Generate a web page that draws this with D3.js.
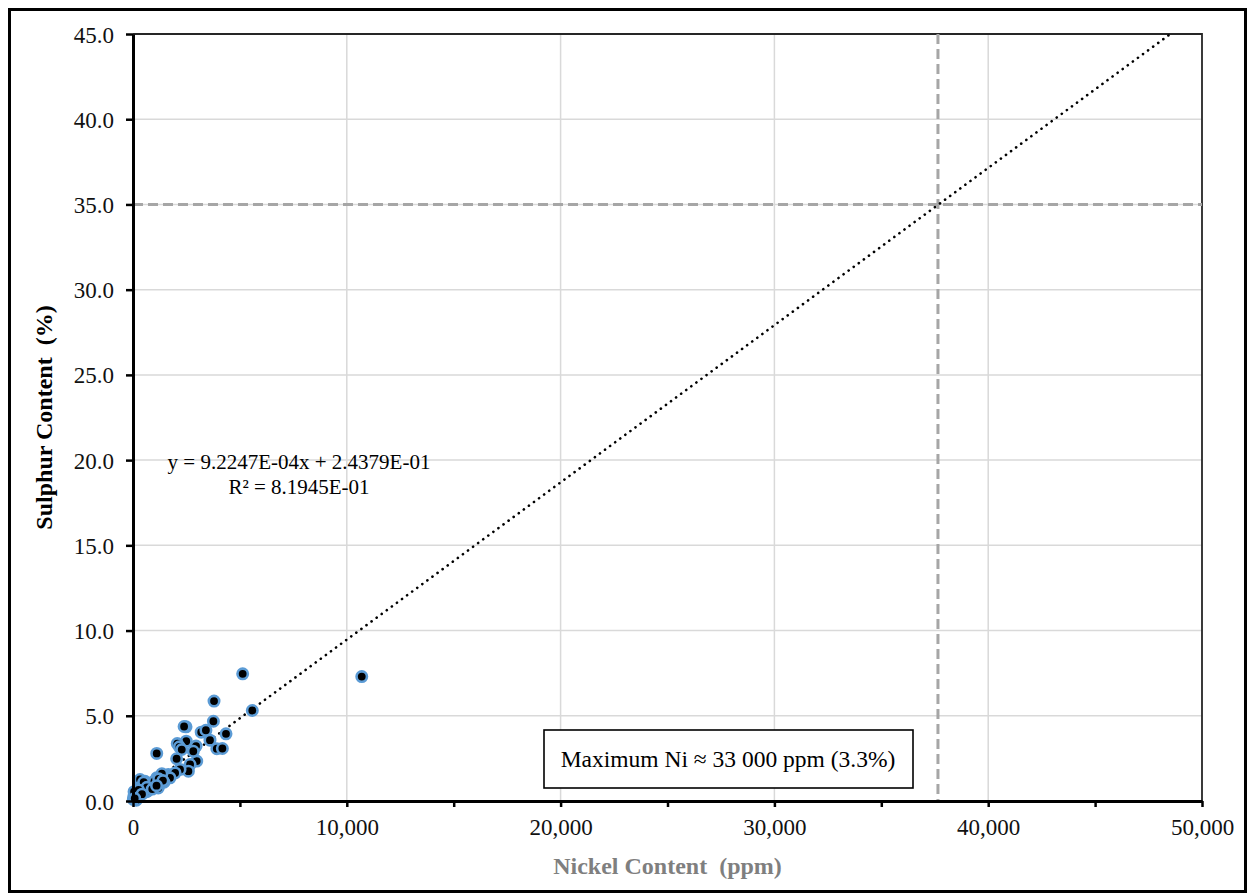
<!DOCTYPE html>
<html>
<head>
<meta charset="utf-8">
<script src="https://cdn.jsdelivr.net/npm/d3@7"></script>
<style>
  body { margin: 0; background: #fff; }
  text { font-family: "Liberation Serif", "Times New Roman", serif; }
</style>
</head>
<body>
<svg id="chart" width="1250" height="895"></svg>
<script>
// nickel (ppm) and sulphur (%) for each sample
let nickel = [10700, 5130, 5580, 3790, 3760, 2480, 2390, 3190, 3410, 4350,
  2490, 3600, 2070, 2950, 3920, 4180, 1110, 2170, 2280, 2040,
  2980, 2670, 2590, 2200, 1650, 1580, 1340, 950, 1260, 560,
  330, 170, 90, 250, 15, 1970, 1110, 720, 1180, 560,
  410, 480, 1730, 2820, 330, 1450, 800, 640, 220, 120,
  60, 380, 520, 900, 1050, 1350, 700, 280, 40, 150,
  100, 200, 300, 450, 600, 750, 850, 1000, 1200, 1400,
  50, 180, 350, 500, 650, 900, 1100, 260, 420, 80]
let sulphur = [7.3, 7.46, 5.31, 5.86, 4.68, 4.35, 4.37, 4.04, 4.15, 3.94,
  3.51, 3.57, 3.37, 3.22, 3.07, 3.08, 2.79, 3.18, 3.02, 2.48,
  2.34, 2.14, 1.75, 1.85, 1.55, 1.45, 1.45, 0.87, 1.26, 1.16,
  0.87, 0.57, 0.38, 0.28, 0.09, 1.65, 1.36, 0.97, 0.77, 1.07,
  0.87, 0.67, 1.36, 2.92, 1.26, 1.1, 0.75, 0.55, 0.45, 0.2,
  0.15, 0.7, 0.95, 1.0, 1.2, 1.6, 0.6, 0.5, 0.3, 0.05,
  0.35, 0.45, 0.6, 0.5, 0.85, 0.9, 1.05, 1.15, 1.3, 1.2,
  0.55, 0.25, 0.8, 1.1, 0.8, 0.7, 0.9, 0.65, 0.4, 0.15]

let xTicks = [0, 10000, 20000, 30000, 40000, 50000]
let xMinorTicks = [0, 5000, 10000, 15000, 20000, 25000, 30000, 35000, 40000, 45000, 50000]
let yTicks = [0, 5, 10, 15, 20, 25, 30, 35, 40, 45]

let slope = 9.2247e-4
let intercept = 2.4379e-1
let eqText = ['y = 9.2247E-04x + 2.4379E-01', 'R\u00b2 = 8.1945E-01']
let limitSulphur = 35.0
let limitNickel = 37650
let noteText = 'Maximum Ni \u2248 33 000 ppm (3.3%)'

let svg = d3.select('#chart')
let pLeft = 133, pRight = 1202, pTop = 34, pBottom = 801

let x = d3.scaleLinear().domain([0, 50000]).range([pLeft, pRight])
let y = d3.scaleLinear().domain([0, 45]).range([pBottom, pTop])

// outer frame
svg.append('rect')
  .attr('x', 9.5).attr('y', 9.5)
  .attr('width', 1236).attr('height', 882)
  .attr('fill', 'none').attr('stroke', '#000').attr('stroke-width', 3)

// gridlines
svg.append('g').selectAll('line')
  .data(yTicks.slice(1, -1))
  .enter().append('line')
  .attr('x1', pLeft).attr('x2', pRight)
  .attr('y1', d => y(d)).attr('y2', d => y(d))
  .attr('stroke', '#d9d9d9').attr('stroke-width', 1.5)

svg.append('g').selectAll('line')
  .data(xTicks.slice(1, -1))
  .enter().append('line')
  .attr('x1', d => x(d)).attr('x2', d => x(d))
  .attr('y1', pTop).attr('y2', pBottom)
  .attr('stroke', '#d9d9d9').attr('stroke-width', 1.5)

// top / right border of plot area
svg.append('path')
  .attr('d', `M${pLeft},${pTop}H${pRight}V${pBottom}`)
  .attr('fill', 'none').attr('stroke', '#262626').attr('stroke-width', 1.8)

// reference lines
svg.append('line')
  .attr('x1', pLeft).attr('x2', pRight)
  .attr('y1', y(limitSulphur)).attr('y2', y(limitSulphur))
  .attr('stroke', '#a6a6a6').attr('stroke-width', 3).attr('stroke-dasharray', '10,5')
svg.append('line')
  .attr('x1', x(limitNickel)).attr('x2', x(limitNickel))
  .attr('y1', pTop).attr('y2', pBottom)
  .attr('stroke', '#a6a6a6').attr('stroke-width', 3).attr('stroke-dasharray', '10,5')

// trendline
let xEnd = (45 - intercept) / slope
svg.append('line')
  .attr('x1', x(0)).attr('y1', y(intercept))
  .attr('x2', x(xEnd)).attr('y2', y(45))
  .attr('stroke', '#000').attr('stroke-width', 2.6)
  .attr('stroke-linecap', 'round').attr('stroke-dasharray', '0.1,6.2')

// points
svg.append('g').selectAll('circle')
  .data(nickel.map((n, i) => [n, sulphur[i]]))
  .enter().append('circle')
  .attr('cx', d => x(d[0])).attr('cy', d => y(d[1]))
  .attr('r', 5.2)
  .attr('fill', '#000').attr('stroke', '#5b9bd5').attr('stroke-width', 2.6)

// axes
let yAxis = svg.append('g')
  .attr('transform', `translate(${pLeft},0)`)
  .call(d3.axisLeft(y).tickValues(yTicks).tickSize(7).tickSizeOuter(0).tickFormat(d3.format('.1f')))
let xAxis = svg.append('g')
  .attr('transform', `translate(0,${pBottom})`)
  .call(d3.axisBottom(x).tickValues(xMinorTicks).tickSize(6).tickSizeOuter(0)
    .tickFormat(d => xTicks.includes(d) ? d3.format(',')(d) : ''))

for (let ax of [xAxis, yAxis]) {
  ax.select('.domain').attr('stroke', '#000').attr('stroke-width', 3)
  ax.selectAll('.tick line').attr('stroke', '#000').attr('stroke-width', 2.5)
  ax.selectAll('.tick text')
    .attr('font-family', '"Liberation Serif", serif')
    .attr('font-size', 23).attr('fill', '#111')
}
yAxis.selectAll('.tick text').attr('x', -19).attr('dy', '0.35em')
xAxis.selectAll('.tick text').attr('y', 18)

// axis titles
svg.append('text')
  .attr('transform', `translate(52,${(pTop + pBottom) / 2}) rotate(-90)`)
  .attr('text-anchor', 'middle')
  .attr('font-size', 24).attr('font-weight', 'bold').attr('fill', '#000')
  .style('white-space', 'pre')
  .text('Sulphur Content  (%)')
svg.append('text')
  .attr('x', (pLeft + pRight) / 2).attr('y', 874)
  .attr('text-anchor', 'middle')
  .attr('font-size', 24).attr('font-weight', 'bold').attr('fill', '#7f7f7f')
  .style('white-space', 'pre')
  .text('Nickel Content  (ppm)')

// trendline equation
svg.append('g').selectAll('text')
  .data(eqText)
  .enter().append('text')
  .attr('x', 299).attr('y', (d, i) => 469 + i * 25)
  .attr('text-anchor', 'middle')
  .attr('font-size', 21).attr('fill', '#000')
  .text(d => d)

// note box
svg.append('rect')
  .attr('x', 544).attr('y', 730).attr('width', 369).attr('height', 58)
  .attr('fill', '#fff').attr('stroke', '#000').attr('stroke-width', 1.6)
svg.append('text')
  .attr('x', 728).attr('y', 767)
  .attr('text-anchor', 'middle')
  .attr('font-size', 23.5).attr('fill', '#000')
  .text(noteText)
</script>
</body>
</html>
